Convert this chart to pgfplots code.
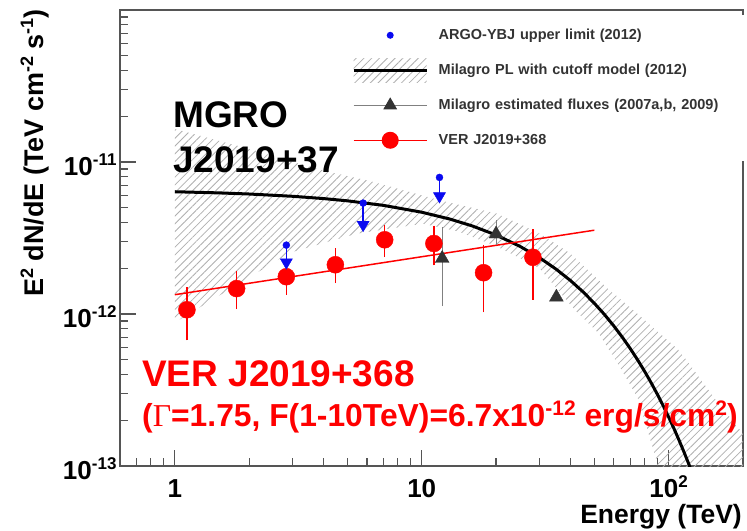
\documentclass[border=0pt]{standalone}
\usepackage{fontspec}
\setmainfont{Liberation Sans}
\newfontfamily\seriffont{Liberation Serif}
\usepackage{pgfplots}
\pgfplotsset{compat=1.18}
\usetikzlibrary{patterns.meta}
\definecolor{mred}{RGB}{255,0,0}
\definecolor{mblue}{RGB}{10,10,240}
\definecolor{mgray}{RGB}{51,51,51}
\definecolor{hatchc}{RGB}{175,175,175}
\definecolor{framec}{RGB}{85,85,85}
\newcommand\tl[1]{10\raisebox{10bp}{\fontsize{17bp}{17bp}\selectfont #1}}
\newcommand\sy[1]{\raisebox{10bp}{\fontsize{18bp}{18bp}\selectfont #1}}
\begin{document}
\begin{tikzpicture}
\useasboundingbox (0,0) rectangle (747bp,531bp);
\begin{axis}[
  at={(120bp,65bp)}, anchor=south west, scale only axis,
  width=623bp, height=456bp,
  xmode=log, ymode=log, xmin=0.6, xmax=200, ymin=1e-13, ymax=1e-10,
  axis line style={framec, line width=1.3bp},
  xtick={1,10,100}, xticklabels={1,10,\tl{2}},
  ytick={1e-13,1e-12,1e-11}, yticklabels={\tl{-13},\tl{-12},\tl{-11}},
  minor xtick={0.7,0.8,0.9,2,3,4,5,6,7,8,9,20,30,40,50,60,70,80,90},
  minor ytick={2e-13,3e-13,4e-13,5e-13,6e-13,7e-13,8e-13,9e-13,2e-12,3e-12,4e-12,5e-12,6e-12,7e-12,8e-12,9e-12,2e-11,3e-11,4e-11,5e-11,6e-11,7e-11,8e-11,9e-11},
  xtick pos=bottom, ytick pos=left, tick align=inside,
  major tick length=16bp, minor tick length=8bp,
  tick style={framec, line width=1.2bp},
  ticklabel style={font=\fontsize{26bp}{26bp}\selectfont\bfseries},
  xticklabel style={anchor=base, yshift=-31bp},
  yticklabel style={anchor=base east, yshift=-13bp},
  legend cell align=left,
  legend style={at={(0.364,0.990)}, anchor=north west, draw=none, fill=white,
    inner xsep=5bp, inner ysep=3bp,
    nodes={draw=none, inner sep=2bp, text=black!80, text width=300bp, align=left},
    font=\fontsize{14.5bp}{16bp}\selectfont\bfseries},
]
% Milagro uncertainty band
\addplot[draw=none, pattern={Lines[angle=45,distance=5.5bp,line width=0.8bp]}, pattern color=hatchc, forget plot] coordinates {
 (1,1.65e-11) (2,1.22e-11) (3,1.0e-11) (4.36,8.5e-12) (6.16,7.5e-12) (8.5,6.5e-12)
 (11.8,5.6e-12) (20,4.6e-12) (30,3.4e-12) (40,2.5e-12) (54,1.58e-12) (70,1.1e-12)
 (90,7.7e-13) (111,5.7e-13) (135,3.7e-13) (156,2.69e-13) (200,1.63e-13)
 (200,5e-14) (93,5e-14)
 (89.4,1.08e-13) (81.5,1.8e-13) (75,2.8e-13) (65,4.2e-13) (52,7.5e-13) (42,1.05e-12)
 (30,2.0e-12) (20,2.8e-12) (14,3.5e-12) (10.1,3.93e-12) (5.45,3.38e-12)
 (2.92,2.53e-12) (2,1.74e-12) (1,8.8e-13)
} -- cycle;
% Milagro PL with cutoff
\addplot[black, line width=3bp, forget plot] coordinates {
 (1,6.376e-12) (1.5,6.267e-12) (2,6.160e-12) (3,5.951e-12) (4,5.749e-12) (5,5.555e-12)
 (7,5.185e-12) (10,4.675e-12) (13,4.215e-12) (16,3.801e-12) (20,3.311e-12) (25,2.787e-12)
 (30,2.346e-12) (35,1.974e-12) (40,1.662e-12) (45,1.399e-12) (50,1.177e-12) (55,0.991e-12)
 (60,0.8335e-12) (65,0.7016e-12) (70,0.5904e-12) (75,0.4970e-12) (80,0.4181e-12)
 (85,0.3520e-12) (90,0.2963e-12) (95,0.2494e-12) (100,0.2099e-12) (105,0.1767e-12)
 (110,0.1487e-12) (115,0.1251e-12) (120,0.1053e-12) (125,0.0886e-12) (130,0.0746e-12)
};
% VER power-law fit
\addplot[mred, line width=1.5bp, forget plot] coordinates {(1,1.34e-12) (50,3.56e-12)};
% VER points
\addplot[forget plot, mred, only marks, mark=*, mark size=8.5bp, mark options={fill=mred, draw=none},
  error bars/.cd, y dir=both, y explicit,
  error bar style={mred, line width=1.5bp},
  error mark options={mred, line width=1.5bp, mark size=4bp}]
  table[x=E, y=F, y error plus=ep, y error minus=em] {
E F ep em
1.12 1.067e-12 0.343e-12 0.355e-12
1.78 1.47e-12 0.34e-12 0.324e-12
2.83 1.76e-12 0.41e-12 0.34e-12
4.47 2.11e-12 0.43e-12 0.41e-12
7.08 3.08e-12 0.54e-12 0.56e-12
11.2 2.91e-12 0.68e-12 0.69e-12
17.8 1.87e-12 0.81e-12 0.78e-12
28.2 2.36e-12 1.03e-12 1.04e-12
};
% Milagro estimated fluxes
\addplot[forget plot, mgray, only marks, mark=triangle*, mark size=8bp, mark options={fill=mgray, draw=none},
  error bars/.cd, y dir=both, y explicit,
  error bar style={gray, line width=0.9bp},
  error mark options={gray, line width=0.9bp, mark size=3bp}]
  table[x=E, y=F, y error plus=ep, y error minus=em] {
E F ep em
12.1 2.32e-12 1.25e-12 1.14e-12
20 3.36e-12 0.59e-12 0.40e-12
35.1 1.29e-12 0 0
};
% ARGO-YBJ upper limits
\addplot[forget plot, mblue, only marks, mark=*, mark size=3.5bp, mark options={fill=mblue, draw=none},
  error bars/.cd, y dir=minus, y explicit, error mark=none,
  error bar style={mblue, line width=1.6bp}]
  table[x=E, y=F, y error minus=em] {
E F em
2.83 2.84e-12 0.65e-12
5.79 5.37e-12 1.5e-12
11.8 7.92e-12 1.95e-12
};
\addplot[forget plot, mblue, only marks, mark=triangle*, mark size=7bp, mark options={rotate=180, fill=mblue, draw=none}]
  table[x=E, y=F] {
E F
2.83 2.19e-12
5.79 3.87e-12
11.8 5.97e-12
};
% legend
\addlegendimage{legend image code/.code={\path[draw=none,fill=none] (0bp,-17.5bp) rectangle (83bp,17.5bp); \fill[mblue,draw=none] (36.5bp,0bp) circle (3.5bp);}}
\addlegendentry{ARGO-YBJ upper limit (2012)}
\addlegendimage{legend image code/.code={\path[draw=none,fill=none] (0bp,-17.5bp) rectangle (83bp,17.5bp); \path[draw=none, pattern={Lines[angle=45,distance=5.5bp,line width=0.8bp]}, pattern color=hatchc] (0bp,-12bp) rectangle (73bp,12bp); \draw[black, line width=3.5bp] (0bp,0bp) -- (73bp,0bp);}}
\addlegendentry{Milagro PL with cutoff model (2012)}
\addlegendimage{legend image code/.code={\path[draw=none,fill=none] (0bp,-17.5bp) rectangle (83bp,17.5bp); \draw[gray, line width=0.9bp] (0bp,0bp) -- (73bp,0bp); \fill[mgray,draw=none] (36.5bp,8bp) -- (29.6bp,-4bp) -- (43.4bp,-4bp) -- cycle;}}
\addlegendentry{Milagro estimated fluxes (2007a,b, 2009)}
\addlegendimage{legend image code/.code={\path[draw=none,fill=none] (0bp,-17.5bp) rectangle (83bp,17.5bp); \draw[mred, line width=1.5bp] (0bp,0bp) -- (73bp,0bp); \fill[mred,draw=none] (36.5bp,0bp) circle (8.5bp);}}
\addlegendentry{VER J2019+368}
\end{axis}
\node[anchor=base west, inner sep=0, font=\fontsize{37bp}{37bp}\selectfont\bfseries] at (173bp,403bp) {MGRO};
\node[anchor=base west, inner sep=0, font=\fontsize{37bp}{37bp}\selectfont\bfseries] at (173bp,358bp) {J2019+37};
\node[anchor=base west, inner sep=0, text=mred, font=\fontsize{37bp}{37bp}\selectfont\bfseries] at (142bp,144bp) {VER J2019+368};
\node[anchor=base west, inner sep=0, text=mred, font=\fontsize{31.8bp}{32bp}\selectfont\bfseries] at (142bp,104bp) {({\seriffont\mdseries Γ}=1.75, F(1-10TeV)=6.7x10\raisebox{11.5bp}{\fontsize{21bp}{21bp}\selectfont -12} erg/s/cm\raisebox{11.5bp}{\fontsize{21bp}{21bp}\selectfont 2})};
\node[rotate=90, anchor=base west, inner sep=0, font=\fontsize{27bp}{27bp}\selectfont\bfseries] at (43bp,234bp) {E\sy{2} dN/dE (TeV cm\sy{-2} s\sy{-1})};
\node[anchor=base east, inner sep=0, font=\fontsize{26.5bp}{27bp}\selectfont\bfseries] at (742bp,8bp) {Energy (TeV)};
\end{tikzpicture}
\end{document}
